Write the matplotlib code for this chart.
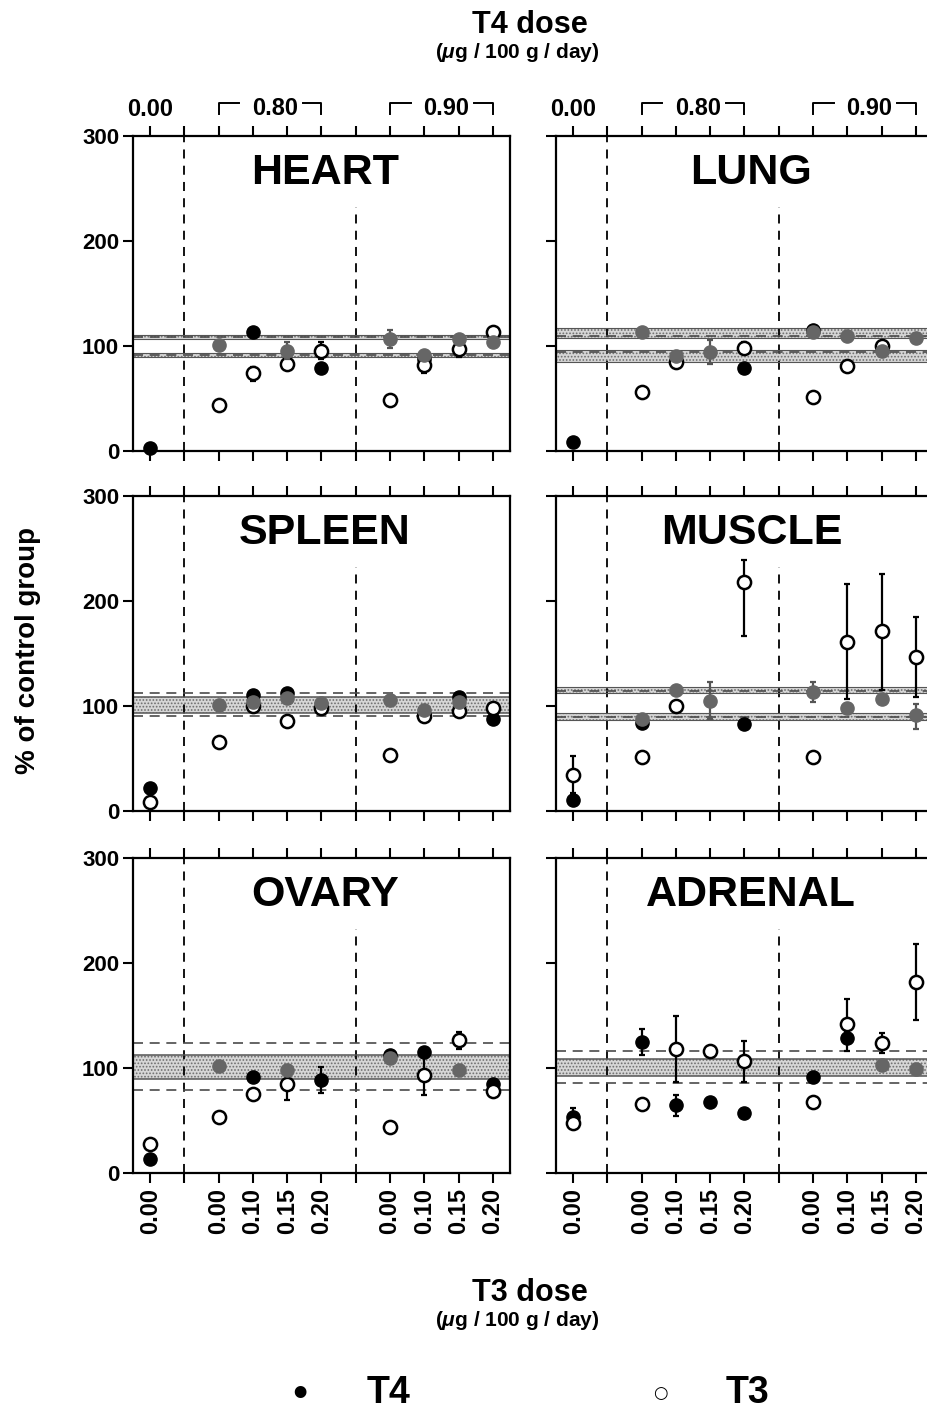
import matplotlib
matplotlib.use('Agg')
import matplotlib.pyplot as plt
import matplotlib.transforms as mtransforms
import numpy as np

plt.rcParams['font.family'] = ['Liberation Sans', 'DejaVu Sans']
plt.rcParams['font.weight'] = 'bold'
plt.rcParams['mathtext.fontset'] = 'custom'
plt.rcParams['mathtext.it'] = 'Liberation Sans:italic:bold'
plt.rcParams['mathtext.rm'] = 'Liberation Sans:bold'
plt.rcParams['hatch.linewidth'] = 0.8
plt.rcParams['hatch.color'] = '#6e6e6e'

nan = np.nan

# x positions of groups (0 = T4 0.00, 2-5 = T4 0.80, 7-10 = T4 0.90)
positions = [0, 2, 3, 4, 5, 7, 8, 9, 10]
bottom_labels = ['0.00', '', '0.00', '0.10', '0.15', '0.20', '', '0.00', '0.10', '0.15', '0.20']
organs = ['HEART', 'LUNG', 'SPLEEN', 'MUSCLE', 'OVARY', 'ADRENAL']

# black filled = T4, open = T3, grey filled = third series
t4_vals = {
    'HEART':   [3, nan, 113, nan, 79, nan, 88, nan, nan],
    'LUNG':    [9, nan, nan, nan, 79, 115, nan, nan, nan],
    'SPLEEN':  [21.5, nan, 110.5, 112, nan, nan, nan, 109, 87.5],
    'MUSCLE':  [10.5, 84, nan, nan, 82.5, nan, nan, nan, nan],
    'OVARY':   [13, nan, 91, nan, 88.5, 112.5, 115, nan, 84.5],
    'ADRENAL': [53.5, 124.5, 65, 68, 57.5, 91.5, 129, nan, nan],
}
t3_vals = {
    'HEART':   [nan, 44, 74, 82.5, 95.5, 49, 81.5, 97, 113],
    'LUNG':    [nan, 56.5, 85, nan, 98.5, 51.5, 81, 100, nan],
    'SPLEEN':  [9, 66, 100, 86, 98.5, 53, 90.5, 95.5, 98],
    'MUSCLE':  [34, 51.5, 100, nan, 218, 51, 161, 171, 147],
    'OVARY':   [27.5, 53, 75, 84.5, nan, 43.5, 93, 126.5, 78.5],
    'ADRENAL': [48, 65.5, 118, 116.5, 107, 68, 141.5, 124, 182],
}
grey_vals = {
    'HEART':   [nan, 101, nan, 95.5, nan, 106.5, 91, 107, 104],
    'LUNG':    [nan, 113, 90.5, 94.5, nan, 113, 109.5, 95, 108],
    'SPLEEN':  [nan, 101, 104, 107.5, 103, 105.5, 96, 104, nan],
    'MUSCLE':  [nan, 88, 115, 105, nan, 113.5, 98.5, 106.5, 91],
    'OVARY':   [nan, 102, nan, 98.5, nan, 110, nan, 98, nan],
    'ADRENAL': [nan, nan, nan, nan, nan, nan, nan, 103, 99],
}
# error bars: (series, x position, low end, high end)
errors = {
    'HEART':   [('t3', 3, 67, 80), ('grey', 4, 88, 104), ('t3', 5, 88, 104),
                ('grey', 7, 98, 115), ('t3', 8, 74, 89), ('t3', 9, 90, 103)],
    'LUNG':    [('grey', 4, 83, 106), ('t3', 5, 92, 104)],
    'SPLEEN':  [],
    'MUSCLE':  [('t3', 0, 17, 52), ('grey', 4, 88, 122.5), ('t3', 5, 166.5, 239),
                ('grey', 7, 104, 123), ('t3', 8, 107, 216), ('t3', 9, 115, 226),
                ('t3', 10, 109, 185), ('grey', 10, 78.5, 102)],
    'OVARY':   [('t3', 4, 69.5, 90), ('t4', 5, 76.5, 101), ('t3', 8, 74, 114),
                ('t3', 9, 118.5, 134.5)],
    'ADRENAL': [('t4', 0, 46, 61.5), ('t4', 2, 112, 137), ('t3', 3, 87, 150),
                ('t4', 3, 54.5, 74), ('t3', 5, 87, 126), ('t3', 8, 129, 166),
                ('t4', 8, 116.5, 135), ('t3', 9, 114, 133), ('t3', 10, 145.5, 218),
                ('grey', 10, 94, 104)],
}
# control group reference: shaded strips and dashed limits
strips = {
    'HEART':   [(107, 110.5), (89.5, 93)],
    'LUNG':    [(107.5, 117), (85, 96)],
    'SPLEEN':  [(93, 109)],
    'MUSCLE':  [(112, 118), (86.5, 93)],
    'OVARY':   [(90, 112)],
    'ADRENAL': [(92.5, 109)],
}
dashed = {
    'HEART':   [108.5, 91.5],
    'LUNG':    [109.5, 94.5],
    'SPLEEN':  [112, 90.5],
    'MUSCLE':  [114, 90],
    'OVARY':   [124, 79],
    'ADRENAL': [116.5, 86],
}

W, H = 928, 1411
fig = plt.figure(figsize=(W / 100, H / 100), dpi=100)

col_left = [133, 556]
rows = [(136, 451), (496, 811), (858, 1173)]
ax_w = 377

styles = {
    't4':   dict(mfc='black', mec='black', mew=1.0, z=3, ec='black'),
    't3':   dict(mfc='white', mec='black', mew=1.8, z=4, ec='black'),
    'grey': dict(mfc='#666666', mec='#666666', mew=1.0, z=5, ec='#555555'),
}

for i, organ in enumerate(organs):
    r, c = divmod(i, 2)
    top, bot = rows[r]
    ax = fig.add_axes([col_left[c] / W, 1 - bot / H, ax_w / W, (bot - top) / H])
    ax.set_xlim(-0.5, 10.5)
    ax.set_ylim(0, 300)
    for s in ax.spines.values():
        s.set_linewidth(1.6)

    ax.set_xticks(range(11))
    ax.tick_params(axis='x', top=True, bottom=True, direction='out',
                   length=7, width=1.5, labelsize=17, pad=4)
    ax.set_yticks([0, 100, 200, 300])
    ax.tick_params(axis='y', left=True, right=False, direction='out',
                   length=7, width=1.5, labelsize=16, pad=3)
    if c == 1:
        ax.set_yticklabels([])
    if r == 2:
        ax.set_xticklabels(bottom_labels, rotation=90, fontweight='bold')
    else:
        ax.set_xticklabels([])

    # reference band
    two = len(strips[organ]) > 1
    for lo, hi in strips[organ]:
        ax.fill_between([-0.5, 10.5], lo, hi, facecolor='#d6d6d6', hatch='.....',
                        edgecolor='#6e6e6e', linewidth=0, zorder=1)
        ax.axhline(lo, color='#555555', lw=0.8 if two else 1.1, zorder=1.5)
        ax.axhline(hi, color='#555555', lw=0.8 if two else 1.1, zorder=1.5)
    for d in dashed[organ]:
        ax.axhline(d, color='#4a4a4a', lw=1.2, ls=(0, (6, 4)), zorder=1.6)

    # group separators
    ax.axvline(1, color='black', lw=1.3, ls=(0, (5, 4)), zorder=1.2)
    ax.plot([6, 6], [0, 232], color='black', lw=1.3, ls=(0, (5, 4)), zorder=1.2)

    series = {'t4': t4_vals[organ], 't3': t3_vals[organ], 'grey': grey_vals[organ]}
    for name, xp, lo_v, hi_v in errors[organ]:
        v = series[name][positions.index(xp)]
        ax.errorbar([xp], [v], yerr=[[v - lo_v], [hi_v - v]], fmt='none',
                    ecolor=styles[name]['ec'], elinewidth=1.6, capsize=2.5,
                    capthick=1.6, zorder=styles[name]['z'] - 0.5)
    for name in ['t4', 't3', 'grey']:
        st = styles[name]
        ax.plot(positions, series[name], 'o', ms=9.5, mfc=st['mfc'], mec=st['mec'],
                mew=st['mew'], zorder=st['z'], clip_on=False)

    title_x = 5.1 if c == 0 else 5.2
    ax.text(title_x, 265, organ, ha='center', va='center', fontsize=31,
            fontweight='bold')

    if r == 0:
        trans = mtransforms.blended_transform_factory(ax.transData, ax.transAxes)
        ax.text(0, 1.085, '0.00', transform=trans, ha='center', va='center',
                fontsize=17, fontweight='bold')
        for start, label in [(2, '0.80'), (7, '0.90')]:
            ax.plot([start, start, start + 0.6], [1.07, 1.105, 1.105], color='black',
                    lw=1.4, transform=trans, clip_on=False)
            ax.plot([start + 2.45, start + 3, start + 3], [1.105, 1.105, 1.07],
                    color='black', lw=1.4, transform=trans, clip_on=False)
            ax.text(start + 1.65, 1.088, label, transform=trans, ha='center',
                    va='center', fontsize=17, fontweight='bold')

fig.text(530 / W, 1 - 25 / H, 'T4 dose', ha='center', va='center', fontsize=22,
         fontweight='bold')
fig.text(517 / W, 1 - 52 / H, '($\\mathit{\\mu}$g / 100 g / day)', ha='center',
         va='center', fontsize=15, fontweight='bold')
fig.text(530 / W, 1 - 1293 / H, 'T3 dose', ha='center', va='center', fontsize=22,
         fontweight='bold')
fig.text(517 / W, 1 - 1320 / H, '($\\mathit{\\mu}$g / 100 g / day)', ha='center',
         va='center', fontsize=15, fontweight='bold')
fig.text(28 / W, 1 - 650 / H, '% of control group', rotation=90, ha='center',
         va='center', fontsize=20, fontweight='bold')

fig.text(300 / W, 1 - 1395 / H, '\u2022', ha='center', va='center', fontsize=24,
         family='DejaVu Sans')
fig.text(389 / W, 1 - 1393 / H, 'T4', ha='center', va='center', fontsize=27,
         fontweight='bold')
fig.text(660 / W, 1 - 1393 / H, '\u25cb', ha='center', va='center', fontsize=12,
         family='DejaVu Sans')
fig.text(748 / W, 1 - 1393 / H, 'T3', ha='center', va='center', fontsize=27,
         fontweight='bold')

fig.savefig('out.png', dpi=100)
